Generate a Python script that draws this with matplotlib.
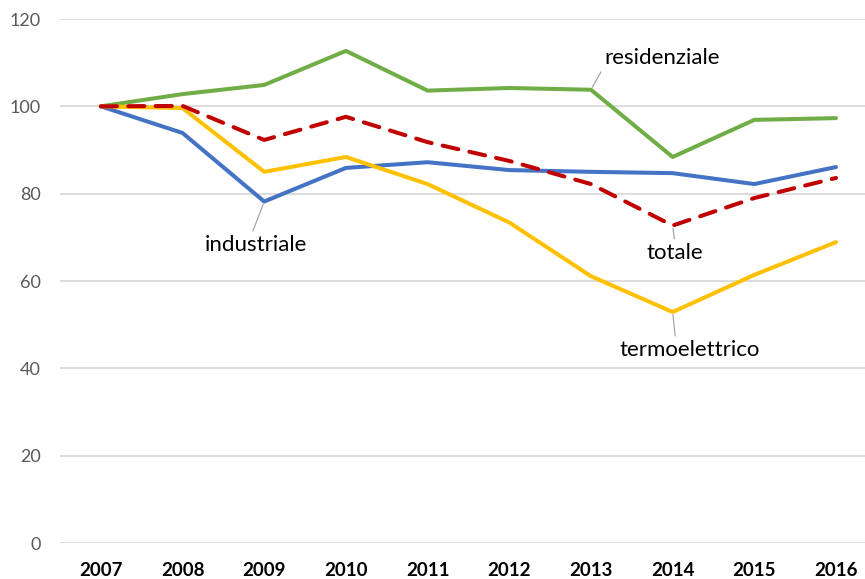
import matplotlib.pyplot as plt

anni = ["2007", "2008", "2009", "2010", "2011", "2012", "2013", "2014", "2015", "2016"]
residenziale = [100, 102.8, 104.9, 112.7, 103.6, 104.2, 103.8, 88.4, 96.9, 97.3]
industriale = [100, 93.9, 78.2, 85.9, 87.2, 85.4, 85.0, 84.7, 82.2, 86.1]
termoelettrico = [100, 99.6, 85.0, 88.4, 82.2, 73.4, 61.1, 52.9, 61.4, 68.9]
totale = [100, 100.1, 92.3, 97.6, 91.8, 87.5, 82.2, 72.7, 79.0, 83.6]

plt.rcParams["font.family"] = ["Lato", "DejaVu Sans"]

fig = plt.figure(figsize=(8.65, 5.79), dpi=100)
ax = fig.add_axes([60 / 865, 1 - 543 / 579, 805 / 865, 524 / 579])

x = range(len(anni))
lw = 2.9
ax.plot(x, industriale, color="#4472C4", lw=lw, solid_capstyle="round", solid_joinstyle="round", zorder=3)
ax.plot(x, residenziale, color="#70AD47", lw=lw, solid_capstyle="round", solid_joinstyle="round", zorder=3)
ax.plot(x, termoelettrico, color="#FFC000", lw=lw, solid_capstyle="round", solid_joinstyle="round", zorder=3)
ax.plot(x, totale, color="#C00000", lw=lw, linestyle=(0, (4, 2.8)), dash_capstyle="round", zorder=4)

ax.set_xlim(-0.5, 9.355)
ax.set_ylim(0, 120)
ax.set_yticks(range(0, 121, 20))
ax.set_xticks(list(x))
ax.set_xticklabels(anni, fontweight="bold", fontsize=13.5, color="black")
ax.tick_params(axis="y", labelsize=13, labelcolor="#595959", length=0, pad=14)
ax.tick_params(axis="x", length=0, pad=14)
ax.grid(axis="y", color="#D9D9D9", lw=1.3)
ax.set_axisbelow(True)
for s in ax.spines.values():
    s.set_visible(False)


def conn(rx, ry):
    return dict(arrowstyle="-", color="#A6A6A6", lw=0.9, shrinkA=1, shrinkB=2, relpos=(rx, ry))


ax.annotate("residenziale", xy=(6, residenziale[6]), xytext=(6.87, 111.1),
            ha="center", va="center", fontsize=16, arrowprops=conn(0.0, 0.1))
ax.annotate("industriale", xy=(2, industriale[2]), xytext=(1.90, 68.2),
            ha="center", va="center", fontsize=16, arrowprops=conn(0.45, 0.95))
ax.annotate("totale", xy=(7, totale[7]), xytext=(7.03, 66.4),
            ha="center", va="center", fontsize=16, arrowprops=conn(0.5, 0.95))
ax.annotate("termoelettrico", xy=(7, termoelettrico[7]), xytext=(7.21, 44.2),
            ha="center", va="center", fontsize=16, arrowprops=conn(0.4, 0.95))

fig.savefig("out.png", dpi=100)
